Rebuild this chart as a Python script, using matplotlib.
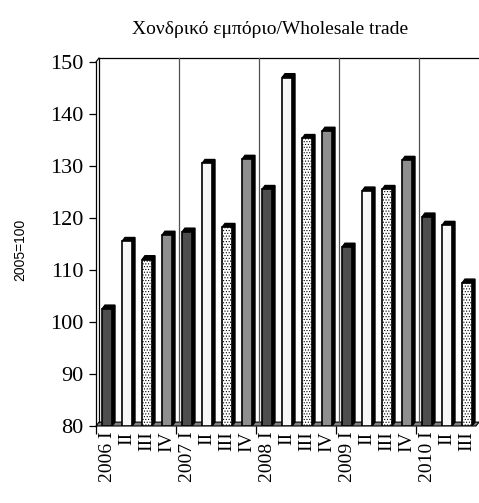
import matplotlib
matplotlib.use("Agg")
import matplotlib.pyplot as plt
import numpy as np

# quarterly index values, 2005=100
years = ["2006", "2007", "2008", "2009", "2010"]
quarters = ["I", "II", "III", "IV"]
values = [102.5, 115.5, 112.0, 116.7,
          117.3, 130.5, 118.2, 131.3,
          125.5, 147.0, 135.3, 136.7,
          114.4, 125.2, 125.5, 131.1,
          120.2, 118.6, 107.5]
labels = []
for i in range(len(values)):
    q = quarters[i % 4]
    if i % 4 == 0:
        labels.append(years[i // 4] + " " + q)
    else:
        labels.append(q)

face = {"I": "#4d4d4d", "II": "#f7f7f7", "III": "white", "IV": "#8e8e8e"}
hatch = {"I": None, "II": None, "III": "......", "IV": None}

plt.rcParams["hatch.linewidth"] = 0.5
plt.rcParams["hatch.color"] = "#404040"
serif = "Liberation Serif"

fig = plt.figure(figsize=(4.79, 5.03), dpi=100)
ax = fig.add_axes([96 / 479, 1 - 426 / 503, 383 / 479, 364 / 503])

ymin, ymax = 80, 150
n = len(values)
dx, dy = 0.15, 0.75  # depth of the 3d look
ax.set_xlim(-dx, n)
ax.set_ylim(ymin, ymax)

# floor
ax.fill([-dx, 0, n, n - dx], [ymin, ymin + dy, ymin + dy, ymin],
        color="#808080", ec="black", lw=0.8, clip_on=False, zorder=1)
# back wall frame
ax.plot([0, 0, n], [ymin + dy, ymax + dy, ymax + dy], color="black", lw=0.9,
        clip_on=False, zorder=1)
ax.plot([-dx, 0], [ymax, ymax + dy], color="black", lw=0.9, clip_on=False)
# year separators
for k in range(4, n, 4):
    ax.plot([k, k], [ymin + dy, ymax + dy], color="#505050", lw=0.9,
            clip_on=False, zorder=1)

w = 0.5
for i, v in enumerate(values):
    q = quarters[i % 4]
    x0 = i + 0.15
    x1 = x0 + w
    # dark side and top
    ax.fill([x0, x0 + dx, x1 + dx, x1 + dx, x1, x1],
            [v, v + dy, v + dy, ymin + dy, ymin, v],
            color="black", lw=1.0, ec="black", zorder=2)
    ax.bar(x0, v - ymin, width=w, bottom=ymin, align="edge",
           color=face[q], edgecolor="black", linewidth=1.2,
           hatch=hatch[q], zorder=3)

for s in ["top", "right", "bottom"]:
    ax.spines[s].set_visible(False)
ax.spines["left"].set_linewidth(0.9)

ax.set_yticks(np.arange(80, 151, 10))
ax.tick_params(axis="y", direction="out", length=5, width=0.9, pad=4)
for t in ax.get_yticklabels():
    t.set_fontfamily(serif)
    t.set_fontsize(16)

ax.set_xticks([k - dx for k in range(0, n, 4)])
ax.set_xticklabels([])
ax.tick_params(axis="x", which="major", direction="out", length=6, width=0.9)
ax.set_xticks([i + 0.4 for i in range(n)], minor=True)
ax.set_xticklabels(labels, minor=True, rotation=90, fontfamily=serif,
                   fontsize=14, va="top", ha="center")
ax.tick_params(axis="x", which="minor", length=0, pad=4)

fig.text(270 / 479, 1 - 29 / 503, "Χονδρικό εμπόριο/Wholesale trade",
         ha="center", va="center", fontfamily=serif, fontsize=14)
fig.text(20 / 479, 1 - 250 / 503, "2005=100", rotation=90, ha="center",
         va="center", fontfamily="Liberation Sans", fontsize=10)

fig.savefig("out.png", dpi=100)
